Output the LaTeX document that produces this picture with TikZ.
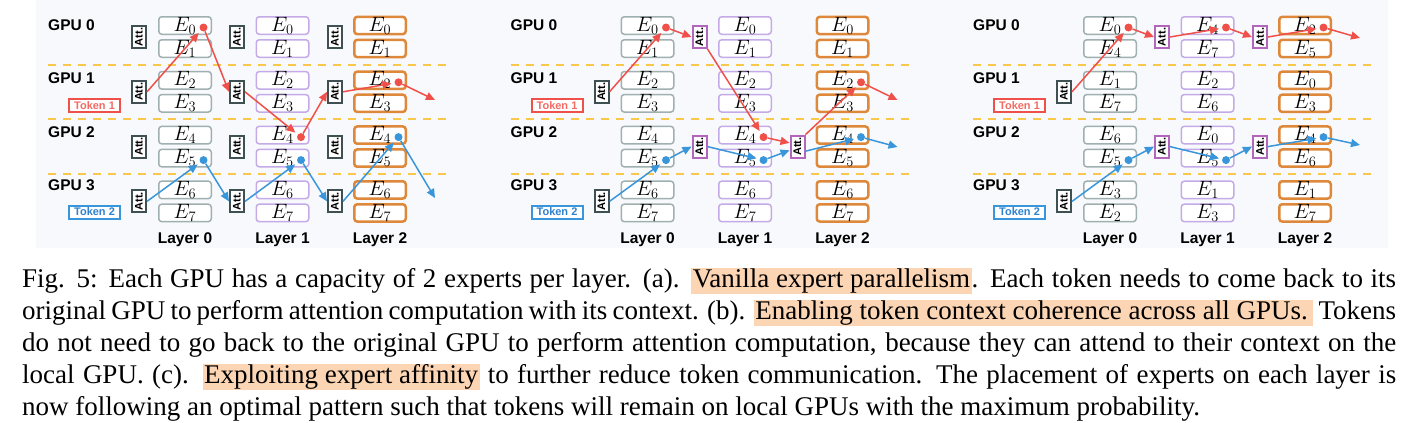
\documentclass[tikz,border=0pt]{standalone}
\usepackage{fontspec}
\setmainfont{Liberation Serif}
\setsansfont{Liberation Sans}
\usetikzlibrary{arrows.meta,positioning}

\definecolor{bggray}{RGB}{248,249,252}
\definecolor{lay0}{RGB}{160,176,176}
\definecolor{lay1}{RGB}{196,170,230}
\definecolor{lay2}{RGB}{221,136,58}
\definecolor{attgray}{RGB}{62,80,82}
\definecolor{attpurple}{RGB}{178,102,188}
\definecolor{tokred}{RGB}{240,80,74}
\definecolor{tokredtxt}{RGB}{242,108,100}
\definecolor{tokblue}{RGB}{58,150,218}
\definecolor{tokbluetxt}{RGB}{47,130,208}
\definecolor{gpuline}{RGB}{249,200,74}
\definecolor{hlpeach}{RGB}{252,213,180}

\newcommand{\hlt}[1]{{\setlength{\fboxsep}{0pt}\colorbox{hlpeach}{\rule[-7pt]{0pt}{26pt}\kern1.5pt#1\kern1.5pt}}}

\begin{document}
\begin{tikzpicture}[x=1pt,y=-1pt,
    ebox/.style={rectangle,rounded corners=3pt,fill=white,line width=1.5pt,
      minimum width=52.5pt,minimum height=17.5pt,inner sep=0pt,
      font=\fontsize{21}{21}\selectfont},
    ebox0/.style={ebox,draw=lay0},
    ebox1/.style={ebox,draw=lay1},
    ebox2/.style={ebox,draw=lay2,line width=2.5pt,minimum width=51.5pt,minimum height=16.5pt},
    attbox/.style={rectangle,draw=attgray,fill=white,line width=2pt,
      minimum width=14pt,minimum height=22pt,inner sep=0pt,
      font=\sffamily\bfseries\fontsize{11}{11}\selectfont},
    attbox1/.style={attbox,draw=attpurple},
    tokbox/.style={rectangle,line width=2pt,fill=white,minimum width=51pt,
      minimum height=13pt,inner sep=0pt,font=\sffamily\bfseries\fontsize{11}{11}\selectfont},
    gpulabel/.style={inner sep=0pt,font=\sffamily\bfseries\fontsize{15.5}{15.5}\selectfont},
    gpusep/.style={gpuline,line width=2pt,dash pattern=on 8pt off 7pt},
    dot/.style={circle,minimum size=8pt,inner sep=0pt},
    tok1/.style={draw=tokred,line width=1.5pt,-{Triangle[length=9pt,width=8pt]}},
    tok2/.style={draw=tokblue,line width=1.5pt,-{Triangle[length=9pt,width=8pt]}},
    tok1d/.style={tok1,shorten >=3pt},
    tok2d/.style={tok2,shorten >=3pt},
    capline/.style={anchor=base west,inner sep=0pt,font=\fontsize{27}{32}\selectfont}]

\useasboundingbox (0,0) rectangle (1403,423);
\fill[bggray] (36,0) rectangle (1388,248);

% labels, separators and tokens of the three panels
\foreach \p/\ox/\ry/\by in {a/0/100/198, b/462.5/100/147, c/925/38/145} {
  \begin{scope}[xshift=\ox]
    \foreach \y in {64.5,119,174}
      \draw[gpusep] (48,\y) -- (447,\y);
    \foreach \g in {0,...,3}
      \node[gpulabel,anchor=base west] (\p-gpu\g) at (48,30+53.5*\g) {GPU \g};
    \foreach \l in {0,1,2}
      \node[gpulabel,anchor=base] (\p-lay\l) at (185+97.5*\l,243) {Layer \l};
    \node[tokbox,draw=tokred,text=tokredtxt] (\p-tok1) at (94.5,105.5) {Token 1};
    \node[tokbox,draw=tokblue,text=tokbluetxt] (\p-tok2) at (94.5,212) {Token 2};
    \coordinate (\p-rend) at (435,\ry);
    \coordinate (\p-bend) at (435,\by);
  \end{scope}
}

% experts per layer
\foreach \p/\ox/\l/\names in {
    a/0/0/{0,1,2,3,4,5,6,7}, a/0/1/{0,1,2,3,4,5,6,7}, a/0/2/{0,1,2,3,4,5,6,7},
    b/462.5/0/{0,1,2,3,4,5,6,7}, b/462.5/1/{0,1,2,3,4,5,6,7}, b/462.5/2/{0,1,2,3,4,5,6,7},
    c/925/0/{0,4,1,7,6,5,3,2}, c/925/1/{4,7,2,6,0,5,1,3}, c/925/2/{2,5,0,3,4,6,1,7}} {
  \foreach \e [count=\s from 0] in \names
    \node[ebox\l] (\p-\l-\s) at ({\ox+185+97.5*\l},{25.5+54.8*int(\s/2)+23*mod(\s,2)}) {$E_{\e}$};
}

% attention blocks
\foreach \l in {0,1,2}
  \foreach \g in {0,...,3}
    \node[attbox] (a-att-\l-\g) at ({139+98*\l},{37+54.8*\g}) {\rotatebox{90}{Att.}};
\foreach \p/\ox/\l/\g/\st in {b/462.5/0/1/attbox, b/462.5/0/3/attbox, b/462.5/1/0/attbox1,
    b/462.5/1/2/attbox1, b/462.5/2/2/attbox1,
    c/925/0/1/attbox, c/925/0/3/attbox, c/925/1/0/attbox1, c/925/1/2/attbox1,
    c/925/2/0/attbox1, c/925/2/2/attbox1}
  \node[\st] (\p-att-\l-\g) at ({\ox+139+98*\l},{37+54.8*\g}) {\rotatebox{90}{Att.}};

% expert picked by each token
\foreach \p/\d/\e/\c in {a/r0/0-0/tokred, a/r1/1-4/tokred, a/r2/2-2/tokred,
    a/b0/0-5/tokblue, a/b1/1-5/tokblue, a/b2/2-4/tokblue,
    b/r0/0-0/tokred, b/r1/1-4/tokred, b/r2/2-2/tokred,
    b/b0/0-5/tokblue, b/b1/1-5/tokblue, b/b2/2-4/tokblue,
    c/r0/0-0/tokred, c/r1/1-0/tokred, c/r2/2-0/tokred,
    c/b0/0-5/tokblue, c/b1/1-5/tokblue, c/b2/2-4/tokblue}
  \node[dot,fill=\c] (\p-\d) at ([shift={(18.5,2)}]\p-\e.center) {};

% token routes
\foreach \u/\v/\st in {
    a-att-0-1.east/a-r0/tok1d, a-r0/a-att-1-1.west/tok1, a-att-1-1.east/a-r1/tok1d,
    a-r1/a-att-2-1.west/tok1, a-att-2-1.east/a-r2/tok1d, a-r2/a-rend/tok1,
    a-att-0-3.east/a-b0/tok2d, a-b0/a-att-1-3.west/tok2, a-att-1-3.east/a-b1/tok2d,
    a-b1/a-att-2-3.west/tok2, a-att-2-3.east/a-b2/tok2d, a-b2/a-bend/tok2,
    b-att-0-1.east/b-r0/tok1d, b-r0/b-att-1-0.west/tok1, b-att-1-0.south east/b-r1/tok1d,
    b-r1/b-att-2-2.155/tok1, b-att-2-2.north east/b-r2/tok1d, b-r2/b-rend/tok1,
    b-att-0-3.east/b-b0/tok2d, b-b0/b-att-1-2.west/tok2, b-att-1-2.east/b-b1/tok2d,
    b-b1/b-att-2-2.205/tok2, b-att-2-2.-30/b-b2/tok2d, b-b2/b-bend/tok2,
    c-att-0-1.east/c-r0/tok1d, c-r0/c-att-1-0.west/tok1, c-att-1-0.east/c-r1/tok1d,
    c-r1/c-att-2-0.west/tok1, c-att-2-0.east/c-r2/tok1d, c-r2/c-rend/tok1,
    c-att-0-3.east/c-b0/tok2d, c-b0/c-att-1-2.west/tok2, c-att-1-2.east/c-b1/tok2d,
    c-b1/c-att-2-2.west/tok2, c-att-2-2.east/c-b2/tok2d, c-b2/c-bend/tok2}
  \draw[\st] (\u) -- (\v);

% caption
\node[capline] (cap1) at (22,287) {\makebox[1374pt][s]{Fig. 5: Each GPU has a capacity of 2 experts per layer. (a). \hlt{Vanilla expert parallelism}. Each token needs to come back to its}};
\node[capline] (cap2) at (22,319) {\makebox[1374pt][s]{original GPU to perform attention computation with its context. (b). \hlt{Enabling token context coherence across all GPUs.\kern4pt} Tokens}};
\node[capline] (cap3) at (22,351) {\makebox[1374pt][s]{do not need to go back to the original GPU to perform attention computation, because they can attend to their context on the}};
\node[capline] (cap4) at (22,383) {\makebox[1374pt][s]{local GPU. (c). \hlt{Exploiting expert affinity} to further reduce token communication. The placement of experts on each layer is}};
\node[capline] (cap5) at (22,415) {now following an optimal pattern such that tokens will remain on local GPUs with the maximum probability.};
\end{tikzpicture}
\end{document}
